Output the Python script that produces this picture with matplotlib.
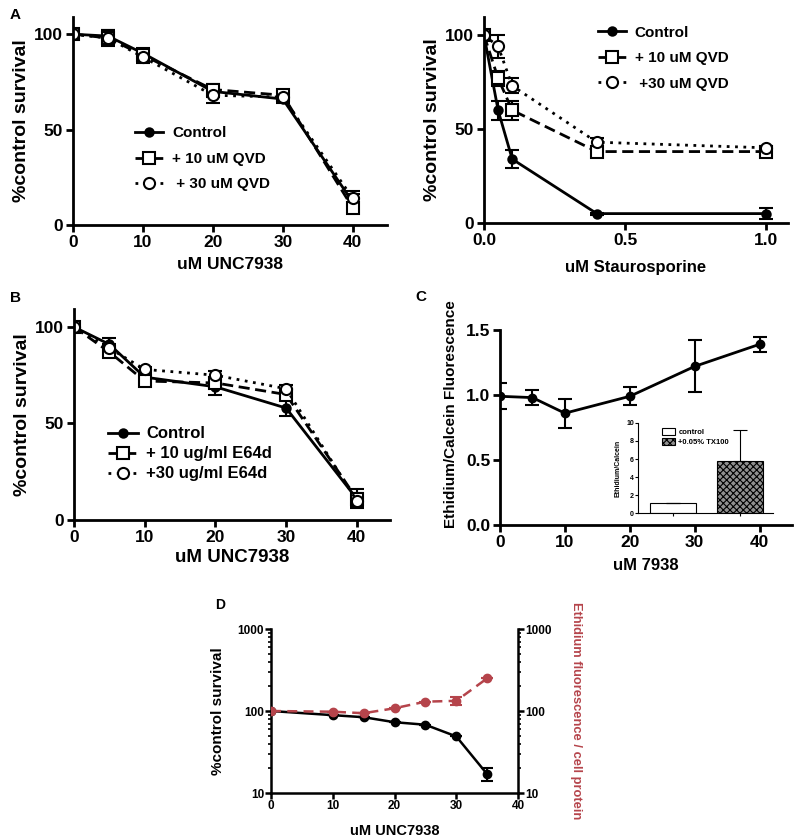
import matplotlib
matplotlib.use('Agg')
import matplotlib.pyplot as plt
from matplotlib.ticker import FixedLocator, FuncFormatter, LogLocator, NullFormatter

plt.rcParams['font.family'] = ['Liberation Sans', 'DejaVu Sans']
plt.rcParams['font.weight'] = 'bold'
plt.rcParams['axes.labelweight'] = 'bold'
plt.rcParams['hatch.linewidth'] = 0.8

# ---- data ----
# panel A left
a_x = [0, 5, 10, 20, 30, 40]
a_ctrl = [100, 99, 90, 70, 66, 12]
a_ctrl_err = [0, 3, 3, 3, 2, 4]
a_q10 = [100, 98, 89, 71, 68, 9]
a_q10_err = [0, 2, 3, 3, 2, 2]
a_q30 = [100, 98, 88, 68, 67, 14]
a_q30_err = [0, 4, 3, 4, 2, 4]
a_labels = ['Control', '+ 10 uM QVD', ' + 30 uM QVD']

# panel A right
s_x = [0, 0.05, 0.1, 0.4, 1.0]
s_ctrl = [100, 60, 34, 5, 5]
s_ctrl_err = [0, 5, 5, 0.5, 3]
s_q10 = [100, 77, 60, 38, 38]
s_q10_err = [0, 4, 5, 2, 2]
s_q30 = [100, 94, 73, 43, 40]
s_q30_err = [0, 6, 4, 2, 1]
s_labels = ['Control', '+ 10 uM QVD', ' +30 uM QVD']

# panel B
b_x = [0, 5, 10, 20, 30, 40]
b_ctrl = [100, 91, 74, 69, 58, 11]
b_ctrl_err = [0, 3.5, 2, 4, 4, 5]
b_e10 = [100, 87, 72, 71, 65, 11]
b_e10_err = [0, 2, 2, 2, 2, 3]
b_e30 = [100, 89, 78, 75, 68, 10]
b_e30_err = [0, 2, 1, 2, 2, 3]
b_labels = ['Control', '+ 10 ug/ml E64d', '+30 ug/ml E64d']

# panel C
c_x = [0, 5, 10, 20, 30, 40]
c_y = [0.99, 0.98, 0.86, 0.99, 1.22, 1.39]
c_err = [0.1, 0.06, 0.11, 0.07, 0.2, 0.06]

# panel C inset
ins_labels = ['control', '+0.05% TX100']
ins_vals = [1.1, 5.8]
ins_err = [0.05, 3.4]

# panel D
d_x = [0, 10, 15, 20, 25, 30, 35]
d_surv = [100, 89, 84, 73, 68, 49, 17]
d_surv_err = [0, 0, 0, 0, 0, 0, 3]
d_eth = [100, 98, 94, 108, 130, 133, 250]
d_eth_err = [0, 0, 0, 0, 0, 15, 0]

red = '#b5444b'
W, H = 796, 839
fig = plt.figure(figsize=(W / 100, H / 100), dpi=100)


def box(x0, x1, ytop, ybot):
    return [x0 / W, 1 - ybot / H, (x1 - x0) / W, (ybot - ytop) / H]


def style(ax, fs=12.5):
    for s in ['top', 'right']:
        ax.spines[s].set_visible(False)
    for s in ['left', 'bottom']:
        ax.spines[s].set_linewidth(2)
    ax.tick_params(width=2, length=5, labelsize=fs, pad=2)
    for lab in ax.get_xticklabels() + ax.get_yticklabels():
        lab.set_fontweight('bold')


def three_series(ax, x, ys, errs, markers):
    styles = ['-', (0, (4, 2)), (0, (1, 2))]
    handles = []
    for y, e, m, ls in zip(ys, errs, markers, styles):
        filled = m == 'o_f'
        mk = 'o' if m in ('o_f', 'o') else 's'
        c = ax.errorbar(x, y, yerr=e, color='black', lw=2, ls=ls,
                        marker=mk, ms=6 if filled else 8,
                        mfc='black' if filled else 'white', mec='black', mew=1.5,
                        capsize=5, elinewidth=1.5, capthick=1.5)
        handles.append(c[0])
    return handles


# ---- A left ----
ax = fig.add_axes(box(73, 387, 17, 225))
h = three_series(ax, a_x, [a_ctrl, a_q10, a_q30], [a_ctrl_err, a_q10_err, a_q30_err],
                 ['o_f', 's', 'o'])
ax.set_xlim(0, 44.9)
ax.set_ylim(0, 109)
ax.set_xticks([0, 10, 20, 30, 40])
ax.set_yticks([0, 50, 100])
style(ax)
ax.set_xlabel('uM UNC7938', fontsize=12.5, labelpad=5)
ax.set_ylabel('%control survival', fontsize=14, labelpad=3)
ax.legend(h, a_labels, loc='upper left',
          bbox_to_anchor=(0.155, 0.54), frameon=False,
          fontsize=11, handlelength=1.8, labelspacing=0.75, handletextpad=0.6)
fig.text(10 / W, 1 - 15 / H, 'A', fontsize=11, fontweight='bold', va='center')

# ---- A right ----
ax = fig.add_axes(box(484, 788, 17, 223))
h = three_series(ax, s_x, [s_ctrl, s_q10, s_q30], [s_ctrl_err, s_q10_err, s_q30_err],
                 ['o_f', 's', 'o'])
ax.set_xlim(0, 1.078)
ax.set_ylim(0, 109.6)
ax.set_xticks([0, 0.5, 1.0])
ax.set_xticklabels(['0.0', '0.5', '1.0'])
ax.set_yticks([0, 50, 100])
style(ax)
ax.set_xlabel('uM Staurosporine', fontsize=12, labelpad=9)
ax.set_ylabel('%control survival', fontsize=14, labelpad=3)
ax.legend(h, s_labels, loc='upper left',
          bbox_to_anchor=(0.33, 1.025), frameon=False,
          fontsize=11, handlelength=1.8, labelspacing=0.75, handletextpad=0.6)

# ---- B ----
ax = fig.add_axes(box(74, 390, 309, 520))
h = three_series(ax, b_x, [b_ctrl, b_e10, b_e30], [b_ctrl_err, b_e10_err, b_e30_err],
                 ['o_f', 's', 'o'])
ax.set_xlim(0, 44.7)
ax.set_ylim(0, 109.3)
ax.set_xticks([0, 10, 20, 30, 40])
ax.set_yticks([0, 50, 100])
style(ax)
ax.set_xlabel('uM UNC7938', fontsize=13.5, labelpad=3)
ax.set_ylabel('%control survival', fontsize=14, labelpad=3)
ax.legend(h, b_labels, loc='upper left',
          bbox_to_anchor=(0.06, 0.515), frameon=False,
          fontsize=12, handlelength=1.8, labelspacing=0.3, handletextpad=0.5)
fig.text(10 / W, 1 - 298 / H, 'B', fontsize=11, fontweight='bold', va='center')

# ---- C ----
ax = fig.add_axes(box(500, 792, 330, 525))
ax.errorbar(c_x, c_y, yerr=c_err, color='black', lw=2, marker='o', ms=6,
            capsize=5, elinewidth=1.5, capthick=1.5)
ax.set_xlim(0, 45)
ax.set_ylim(0, 1.5)
ax.set_xticks([0, 10, 20, 30, 40])
ax.set_yticks([0, 0.5, 1.0, 1.5])
ax.set_yticklabels(['0.0', '0.5', '1.0', '1.5'])
style(ax)
ax.set_xlabel('uM 7938', fontsize=12, labelpad=6)
ax.set_ylabel('Ethidium/Calcein Fluorescence', fontsize=11)
ax.yaxis.set_label_coords(-0.145, 0.57)
fig.text(415 / W, 1 - 297 / H, 'C', fontsize=11, fontweight='bold', va='center')

# inset
ax = fig.add_axes(box(638, 773, 423, 513))
pos = [1, 2]
bars = ax.bar(pos, ins_vals, width=0.69, color=['white', '#909090'],
              edgecolor='black', linewidth=0.8)
bars[1].set_hatch('xxxxx')
ax.errorbar(pos, ins_vals, yerr=[[0, 0], ins_err], fmt='none', ecolor='black',
            elinewidth=0.8, capsize=5, capthick=0.8)
ax.set_xlim(0.48, 2.49)
ax.set_ylim(0, 10)
ax.set_xticks(pos)
ax.set_xticklabels([])
ax.set_yticks([0, 2, 4, 6, 8, 10])
for s in ['top', 'right']:
    ax.spines[s].set_visible(False)
for s in ['left', 'bottom']:
    ax.spines[s].set_linewidth(0.8)
ax.tick_params(width=0.8, length=2, labelsize=5, pad=1)
ax.set_ylabel('Ethidium/Calcein', fontsize=5, labelpad=3)
ax.legend(bars, ins_labels, loc='upper left', bbox_to_anchor=(0.13, 1.02),
          frameon=False, fontsize=5.5, handlelength=1.6, handleheight=1.0,
          labelspacing=0.3, handletextpad=0.5)

# ---- D ----
ax = fig.add_axes(box(271, 518, 629, 793))
ax.errorbar(d_x, d_surv, yerr=d_surv_err, color='black', lw=1.8, marker='o',
            ms=6, capsize=4, elinewidth=1.5, capthick=1.5)
ax.set_yscale('log')
ax.set_xlim(0, 40)
ax.set_ylim(10, 1000)
ax.set_xticks([0, 10, 20, 30, 40])
fmt = FuncFormatter(lambda v, p: '%d' % v)
ax.yaxis.set_major_locator(FixedLocator([10, 100, 1000]))
ax.yaxis.set_major_formatter(fmt)
ax.yaxis.set_minor_locator(LogLocator(base=10, subs=range(2, 10)))
ax.yaxis.set_minor_formatter(NullFormatter())
ax.spines['top'].set_visible(False)
ax.spines['right'].set_visible(False)
for s in ['left', 'bottom']:
    ax.spines[s].set_linewidth(1.8)
ax.tick_params(width=1.8, length=4, labelsize=8.5, pad=1)
ax.tick_params(which='minor', width=1.2, length=2.5)
for lab in ax.get_xticklabels() + ax.get_yticklabels():
    lab.set_fontweight('bold')
ax.set_xlabel('uM UNC7938', fontsize=10.5, labelpad=9)
ax.set_ylabel('%control survival', fontsize=11, labelpad=9)

ax2 = ax.twinx()
ax2.errorbar(d_x, d_eth, yerr=d_eth_err, color=red, lw=1.8, ls=(0, (4, 2.5)),
             marker='o', ms=6, capsize=4, elinewidth=1.5, capthick=1.5)
ax2.set_yscale('log')
ax2.set_ylim(10, 1000)
ax2.yaxis.set_major_locator(FixedLocator([10, 100, 1000]))
ax2.yaxis.set_major_formatter(fmt)
ax2.yaxis.set_minor_locator(LogLocator(base=10, subs=range(2, 10)))
ax2.yaxis.set_minor_formatter(NullFormatter())
ax2.spines['top'].set_visible(False)
ax2.spines['left'].set_visible(False)
ax2.spines['bottom'].set_visible(False)
ax2.spines['right'].set_linewidth(1.8)
ax2.tick_params(width=1.8, length=4, labelsize=8.5, pad=1)
ax2.tick_params(which='minor', width=1.2, length=2.5)
for lab in ax2.get_yticklabels():
    lab.set_fontweight('bold')
ax2.set_ylabel('Ethidium fluorescence / cell protein', fontsize=9.3, color=red,
               rotation=270, labelpad=22)
fig.text(215 / W, 1 - 605 / H, 'D', fontsize=10, fontweight='bold', va='center')

fig.savefig('out.png', dpi=100)
